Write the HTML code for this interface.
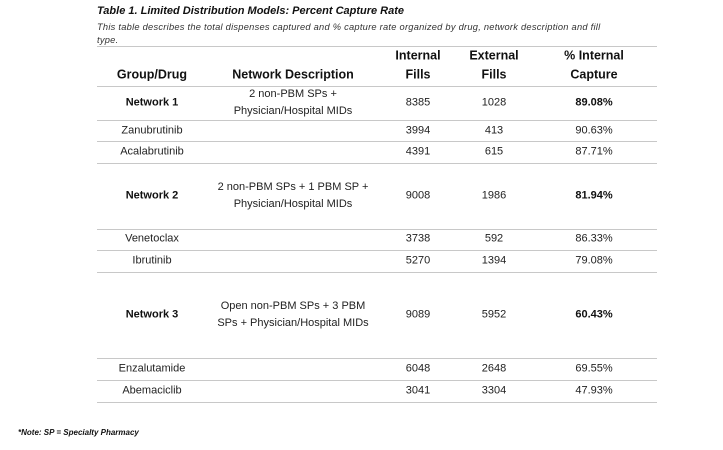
<!DOCTYPE html>
<html><head><style>
body{margin:0;width:723px;height:450px;background:#fff;position:relative;font-family:"Liberation Sans",sans-serif;color:#111;overflow:hidden}
.t{position:absolute;white-space:nowrap}
.c{position:absolute;transform:translate(-50%,-50%);text-align:center;white-space:nowrap;font-size:11px;line-height:17px;color:#222}
.h{font-weight:bold;font-size:12.5px;color:#111}
.b{font-weight:bold;color:#111}
.l{position:absolute;left:97px;width:560px;height:1px;background:#c8c8c8}
</style></head><body>
<div class="t" style="left:97px;top:5px;font-size:11px;font-weight:bold;font-style:italic">Table 1. Limited Distribution Models: Percent Capture Rate</div>
<div class="t" style="left:97px;top:21px;font-size:9.3px;font-style:italic;color:#333;line-height:12.5px;letter-spacing:0.25px">This table describes the total dispenses captured and % capture rate organized by drug, network description and fill<br>type.</div>
<div class="l" style="top:46px"></div>
<div class="c h" style="left:418px;top:56px">Internal</div>
<div class="c h" style="left:494px;top:56px">External</div>
<div class="c h" style="left:594px;top:56px">% Internal</div>
<div class="c h" style="left:152px;top:75px">Group/Drug</div>
<div class="c h" style="left:293px;top:75px">Network Description</div>
<div class="c h" style="left:418px;top:75px">Fills</div>
<div class="c h" style="left:494px;top:75px">Fills</div>
<div class="c h" style="left:594px;top:75px">Capture</div>
<div class="l" style="top:86px"></div>

<div class="c b" style="left:152px;top:103px">Network 1</div>
<div class="c" style="left:293px;top:103px">2 non-PBM SPs +<br>Physician/Hospital MIDs</div>
<div class="c" style="left:418px;top:103px">8385</div><div class="c" style="left:494px;top:103px">1028</div><div class="c b" style="left:594px;top:103px">89.08%</div>
<div class="l" style="top:120px"></div>
<div class="c" style="left:152px;top:131px">Zanubrutinib</div><div class="c" style="left:418px;top:131px">3994</div><div class="c" style="left:494px;top:131px">413</div><div class="c" style="left:594px;top:131px">90.63%</div>
<div class="l" style="top:141px"></div>
<div class="c" style="left:152px;top:152px">Acalabrutinib</div><div class="c" style="left:418px;top:152px">4391</div><div class="c" style="left:494px;top:152px">615</div><div class="c" style="left:594px;top:152px">87.71%</div>
<div class="l" style="top:163px"></div>

<div class="c b" style="left:152px;top:196px">Network 2</div>
<div class="c" style="left:293px;top:196px">2 non-PBM SPs + 1 PBM SP +<br>Physician/Hospital MIDs</div>
<div class="c" style="left:418px;top:196px">9008</div><div class="c" style="left:494px;top:196px">1986</div><div class="c b" style="left:594px;top:196px">81.94%</div>
<div class="l" style="top:229px"></div>
<div class="c" style="left:152px;top:239px">Venetoclax</div><div class="c" style="left:418px;top:239px">3738</div><div class="c" style="left:494px;top:239px">592</div><div class="c" style="left:594px;top:239px">86.33%</div>
<div class="l" style="top:250px"></div>
<div class="c" style="left:152px;top:261px">Ibrutinib</div><div class="c" style="left:418px;top:261px">5270</div><div class="c" style="left:494px;top:261px">1394</div><div class="c" style="left:594px;top:261px">79.08%</div>
<div class="l" style="top:272px"></div>

<div class="c b" style="left:152px;top:315px">Network 3</div>
<div class="c" style="left:293px;top:315px">Open non-PBM SPs + 3 PBM<br>SPs + Physician/Hospital MIDs</div>
<div class="c" style="left:418px;top:315px">9089</div><div class="c" style="left:494px;top:315px">5952</div><div class="c b" style="left:594px;top:315px">60.43%</div>
<div class="l" style="top:358px"></div>
<div class="c" style="left:152px;top:369px">Enzalutamide</div><div class="c" style="left:418px;top:369px">6048</div><div class="c" style="left:494px;top:369px">2648</div><div class="c" style="left:594px;top:369px">69.55%</div>
<div class="l" style="top:380px"></div>
<div class="c" style="left:152px;top:391px">Abemaciclib</div><div class="c" style="left:418px;top:391px">3041</div><div class="c" style="left:494px;top:391px">3304</div><div class="c" style="left:594px;top:391px">47.93%</div>
<div class="l" style="top:402px"></div>

<div class="t" style="left:18px;top:428px;font-size:8px;font-weight:bold;font-style:italic">*Note: SP = Specialty Pharmacy</div>
</body></html>
